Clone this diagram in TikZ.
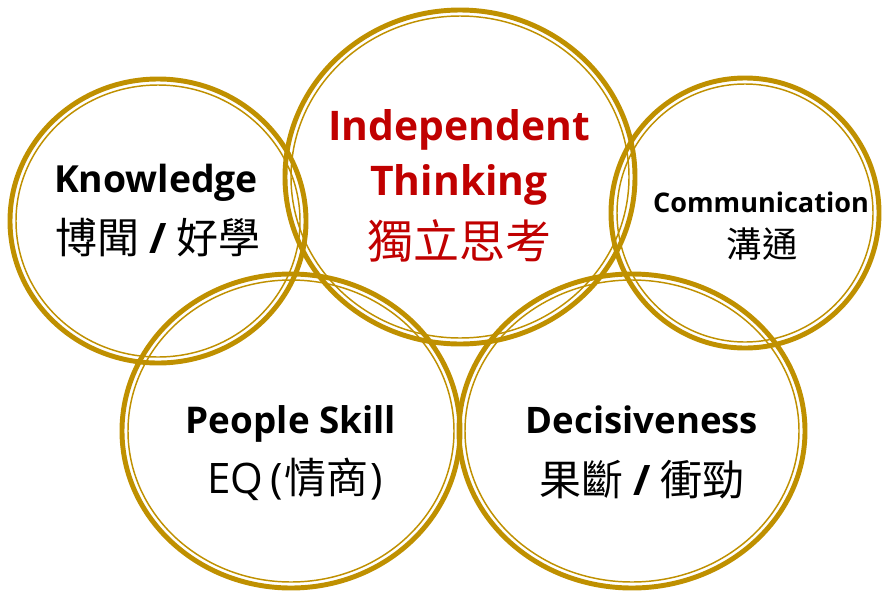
\documentclass[tikz,border=0pt]{standalone}
\usepackage{fontspec}
\setmainfont{Open Sans}
\newfontfamily\cjk{Noto Sans CJK TC}
\definecolor{ringgold}{RGB}{191,144,0}
\definecolor{titlered}{RGB}{192,0,0}
\begin{document}
\begin{tikzpicture}[x=0.75pt,y=-0.75pt,
  outerring/.style={draw=ringgold,line width=3.7pt},
  innerring/.style={draw=ringgold,line width=1.1pt},
  lbl/.style={align=center,inner sep=0pt,text=black}]
\useasboundingbox (0,0) rectangle (882,593);
\newcommand{\ring}[5]{%
  \draw[outerring] (#1,#2) ellipse [x radius=#3,y radius=#4];
  \draw[innerring] (#1,#2) ellipse [x radius=#3-6,y radius=#4-6];
  \coordinate (#5) at (#1,#2);}
\ring{158}{221}{148}{142}{know}
\ring{460}{177}{175}{167}{indep}
\ring{745}{213}{134}{135}{comm}
\ring{291}{431}{169}{157}{people}
\ring{632}{431}{173}{157}{decis}
% Knowledge
\node[lbl,font=\bfseries\fontsize{28}{30}\selectfont,anchor=base] (t1) at (156,192) {Knowledge};
\node[lbl,font=\fontsize{31.5}{33}\selectfont,anchor=base] (t1b) at (158,253) {\cjk 博聞 \textbf{\rmfamily /} 好學};
% Independent Thinking
\node[lbl,text=titlered,font=\bfseries\fontsize{30.6}{34}\selectfont,anchor=base] (t2) at (459,140) {Independent};
\node[lbl,text=titlered,font=\bfseries\fontsize{30.6}{34}\selectfont,anchor=base] (t2b) at (459,195) {Thinking};
\node[lbl,text=titlered,font=\fontsize{34.5}{36}\selectfont,anchor=base] (t2c) at (459,258) {\cjk 獨立思考};
% Communication
\node[lbl,font=\bfseries\fontsize{20.3}{22}\selectfont,anchor=base] (t3) at (761,212) {Communication};
\node[lbl,font=\fontsize{26.5}{28}\selectfont,anchor=base] (t3b) at (762,257) {\cjk 溝通};
% People Skill
\node[lbl,font=\bfseries\fontsize{27.6}{30}\selectfont,anchor=base] (t4) at (291,433) {People Skill};
\node[lbl,font=\fontsize{31.5}{34}\selectfont,anchor=base] (t4b) at (295,493) {EQ\,(\kern1.5pt{\cjk 情商}\kern1.5pt)};
% Decisiveness
\node[lbl,font=\bfseries\fontsize{27.4}{30}\selectfont,anchor=base] (t5) at (642,433) {Decisiveness};
\node[lbl,font=\fontsize{31.5}{33}\selectfont,anchor=base] (t5b) at (642,495) {\cjk 果斷 \textbf{\rmfamily /} 衝勁};
\end{tikzpicture}
\end{document}
